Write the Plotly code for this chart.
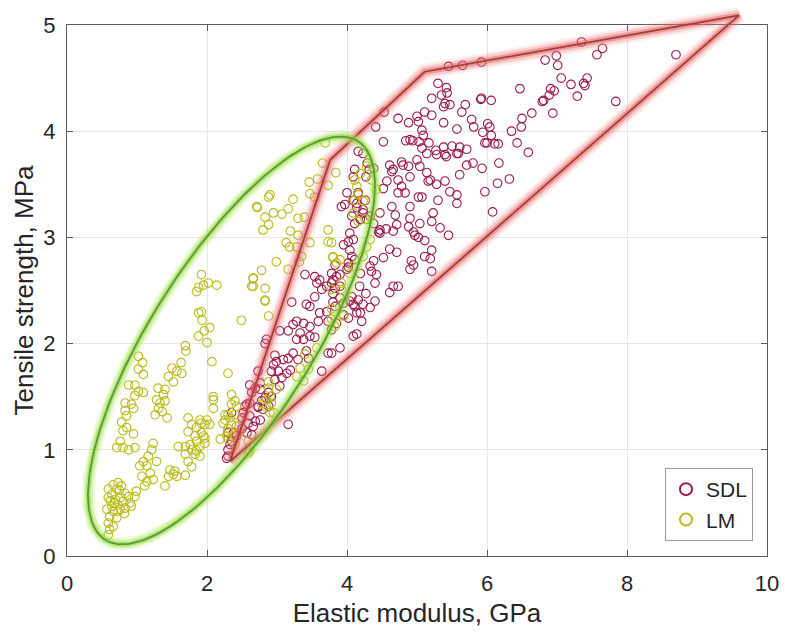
import numpy as np
import plotly.graph_objects as go

# ---------------- data (Elastic modulus [GPa], Tensile strength [MPa]) ----------------
sdl_pairs = [
    (7.35, 4.84), (7.65, 4.78), (7.57, 4.72), (8.70, 4.72), (6.83, 4.67), (6.99, 4.71), (7.01, 4.62),
    (7.06, 4.50), (7.20, 4.44), (7.38, 4.45), (7.40, 4.43), (7.43, 4.50), (7.29, 4.33), (7.84, 4.28),
    (6.47, 4.40), (6.91, 4.40), (6.96, 4.38), (6.89, 4.34), (6.81, 4.29), (6.79, 4.28), (6.94, 4.17),
    (6.64, 4.17), (6.50, 4.12), (6.49, 4.04), (6.35, 4.00), (6.43, 3.89), (6.59, 3.80), (6.17, 3.70),
    (6.32, 3.55), (6.15, 3.51), (5.97, 3.43), (6.08, 3.24), (5.93, 3.65), (6.06, 4.29), (5.92, 4.31),
    (6.01, 4.07), (6.04, 4.04), (5.94, 3.99), (6.06, 3.96), (6.00, 3.89), (6.11, 3.88), (6.16, 3.88),
    (5.92, 4.65), (5.45, 4.61), (5.65, 4.62), (5.30, 4.45), (5.42, 4.41), (5.21, 4.31), (5.35, 4.34),
    (5.43, 4.36), (5.40, 4.26), (5.38, 4.23), (5.47, 4.25), (5.69, 4.25), (5.64, 4.18), (5.91, 4.30),
    (4.53, 4.18), (4.41, 4.04), (4.73, 4.12), (4.88, 4.08), (5.00, 4.14), (5.11, 4.18), (5.02, 4.09),
    (5.21, 4.15), (5.07, 4.01), (5.09, 3.96), (5.03, 3.90), (5.38, 4.08), (5.57, 4.02), (5.78, 4.11),
    (5.81, 4.04), (5.97, 3.89), (4.52, 3.90), (4.84, 3.91), (4.90, 3.92), (4.94, 3.91), (5.17, 3.89),
    (5.07, 3.84), (5.38, 3.85), (5.27, 3.82), (5.50, 3.86), (5.61, 3.85), (5.71, 3.83), (5.59, 3.79),
    (5.28, 3.78), (5.42, 3.76), (5.57, 3.79), (5.71, 3.68), (5.80, 3.70), (5.61, 3.59), (4.61, 3.68),
    (4.78, 3.71), (4.88, 3.67), (5.00, 3.73), (5.04, 3.67), (5.14, 3.61), (5.19, 3.54), (5.28, 3.50),
    (4.64, 3.62), (4.73, 3.54), (4.90, 3.57), (4.16, 3.81), (4.23, 3.79), (4.29, 3.70), (4.32, 3.64),
    (4.38, 3.65), (4.52, 3.46), (4.73, 3.42), (4.83, 3.42), (4.78, 3.48), (4.90, 3.29), (5.02, 3.38),
    (5.07, 3.38), (5.30, 3.35), (5.40, 3.53), (5.47, 3.43), (5.57, 3.40), (5.57, 3.32), (3.97, 3.31),
    (3.92, 3.29), (4.14, 3.32), (4.23, 3.26), (4.33, 3.20), (4.47, 3.23), (4.64, 3.29), (4.69, 3.21),
    (4.71, 3.12), (4.90, 3.18), (4.88, 3.10), (5.04, 3.13), (5.23, 3.23), (5.33, 3.09), (5.45, 3.02),
    (4.97, 3.02), (4.47, 3.04), (4.38, 3.13), (4.19, 3.17), (4.07, 3.20), (4.11, 3.64), (5.21, 3.15),
    (4.56, 3.08), (4.57, 3.53), (4.66, 3.64), (4.80, 3.68), (5.16, 3.53), (5.40, 3.78), (5.14, 3.79),
    (4.27, 3.57), (4.09, 3.35), (4.14, 3.28), (4.11, 3.13), (4.23, 3.23), (4.28, 3.17), (3.95, 2.93),
    (4.02, 2.96), (4.09, 2.98), (4.04, 2.88), (4.07, 2.82), (4.11, 2.79), (4.02, 2.76), (3.83, 2.74),
    (3.78, 2.66), (3.85, 2.63), (3.78, 2.57), (3.71, 2.54), (3.61, 2.60), (3.54, 2.63), (3.57, 2.57),
    (3.64, 2.51), (3.80, 2.47), (3.40, 2.65), (3.54, 2.44), (3.90, 2.54), (4.00, 2.70), (4.18, 2.54),
    (4.27, 2.47), (4.19, 2.66), (4.09, 3.57), (4.00, 3.42), (4.16, 3.42), (4.26, 3.35), (4.04, 3.04),
    (4.33, 2.73), (4.40, 2.57), (4.66, 2.54), (4.47, 3.07), (4.02, 2.72), (3.90, 2.65), (3.80, 2.60),
    (3.83, 2.52), (3.90, 2.43), (3.83, 2.35), (3.95, 2.27), (4.02, 2.24), (3.85, 2.19), (3.78, 2.13),
    (4.04, 2.40), (4.11, 2.35), (4.19, 2.29), (4.21, 2.21), (4.09, 2.07), (3.90, 1.96), (3.78, 1.91),
    (4.40, 2.40), (4.33, 2.34), (4.16, 2.41), (4.35, 2.68), (4.42, 2.65), (4.38, 2.78), (4.52, 2.81),
    (4.61, 2.89), (4.71, 2.86), (4.45, 3.05), (4.66, 3.06), (4.95, 3.05), (5.02, 3.00), (5.11, 2.97),
    (5.11, 2.82), (5.21, 2.88), (5.19, 2.80), (5.21, 2.68), (4.92, 2.78), (4.90, 2.70), (4.95, 2.74),
    (4.61, 2.48), (4.73, 2.54), (3.80, 2.39), (3.21, 2.39), (3.42, 2.37), (3.47, 2.35), (3.61, 2.29),
    (3.71, 2.30), (3.73, 2.21), (3.59, 2.21), (3.47, 2.16), (3.38, 2.19), (3.28, 2.21), (3.23, 2.18),
    (3.16, 2.12), (3.04, 2.12), (3.33, 2.10), (3.47, 2.07), (3.54, 2.06), (3.38, 2.04), (3.28, 2.04),
    (2.85, 2.04), (2.83, 2.00), (2.97, 1.89), (3.16, 1.86), (3.09, 1.85), (3.23, 1.91), (3.42, 1.93),
    (3.45, 1.86), (3.30, 1.85), (3.19, 1.75), (3.14, 1.72), (2.99, 1.83), (2.95, 1.80), (3.02, 1.74),
    (3.07, 1.68), (2.97, 1.66), (2.92, 1.74), (3.04, 1.60), (2.73, 1.74), (2.61, 1.61), (2.69, 1.58),
    (2.64, 1.54), (2.76, 1.57), (2.83, 1.49), (2.88, 1.54), (2.92, 1.50), (2.78, 1.46), (2.88, 1.41),
    (2.73, 1.40), (2.61, 1.44), (2.57, 1.43), (2.52, 1.35), (2.61, 1.32), (2.69, 1.27), (2.80, 1.38),
    (2.66, 1.22), (2.57, 1.16), (2.64, 1.14), (2.50, 1.20), (2.38, 1.16), (2.35, 1.08), (2.33, 1.05),
    (2.30, 0.94), (3.16, 1.24), (4.14, 2.09), (4.14, 2.29), (4.23, 2.37), (4.09, 2.37), (4.07, 2.44),
    (3.73, 1.91), (3.64, 1.74), (3.95, 2.38), (2.76, 1.63), (2.54, 1.41), (2.73, 1.41), (2.50, 1.30),
    (2.59, 1.25), (2.76, 1.28), (2.35, 1.35), (2.30, 1.16), (2.42, 1.13), (2.30, 1.00), (2.28, 0.92),
]

lm_pairs = [
    (3.69, 3.89), (3.65, 3.70), (3.84, 3.61), (3.73, 3.49), (3.58, 3.55), (3.46, 3.52), (3.47, 3.41),
    (3.23, 3.36), (2.90, 3.40), (2.88, 3.38), (2.71, 3.29), (2.72, 3.28), (2.95, 3.23), (3.07, 3.22),
    (3.16, 3.27), (2.83, 3.19), (2.88, 3.12), (2.80, 3.07), (3.30, 3.18), (3.39, 3.19), (3.19, 3.06),
    (3.30, 3.02), (3.13, 2.95), (3.18, 2.91), (3.28, 2.91), (3.47, 2.95), (3.73, 2.96), (2.99, 2.77),
    (3.16, 2.70), (3.32, 2.77), (2.78, 2.69), (2.66, 2.61), (2.64, 2.54), (2.83, 2.52), (3.80, 2.81),
    (4.11, 3.54), (4.14, 3.48), (4.16, 3.40), (4.23, 3.34), (4.26, 3.17), (4.16, 3.15), (1.92, 2.65),
    (2.02, 2.57), (2.14, 2.55), (1.95, 2.55), (1.88, 2.53), (1.85, 2.49), (1.88, 2.29), (1.92, 2.30),
    (1.93, 2.22), (2.04, 2.15), (1.96, 2.12), (1.88, 2.07), (2.00, 2.01), (2.49, 2.22), (2.07, 1.83),
    (2.30, 1.72), (1.69, 1.98), (1.70, 1.93), (1.63, 1.82), (1.50, 1.77), (1.57, 1.74), (1.64, 1.72),
    (1.45, 1.69), (1.02, 1.88), (1.08, 1.82), (1.02, 1.76), (1.09, 1.71), (0.88, 1.61), (0.97, 1.61),
    (1.02, 1.55), (1.09, 1.54), (0.97, 1.51), (0.83, 1.44), (0.92, 1.43), (0.95, 1.39), (0.83, 1.37),
    (0.85, 1.32), (0.78, 1.26), (0.85, 1.21), (0.80, 1.18), (0.95, 1.15), (1.52, 1.64), (1.30, 1.58),
    (1.40, 1.57), (1.38, 1.52), (1.28, 1.47), (1.33, 1.44), (1.40, 1.46), (1.31, 1.39), (1.36, 1.36),
    (1.26, 1.33), (1.43, 1.30), (0.71, 1.02), (0.80, 1.02), (0.76, 1.08), (0.97, 1.02), (0.88, 1.00),
    (1.23, 1.06), (1.21, 1.00), (1.16, 0.94), (1.09, 0.89), (1.14, 0.85), (1.04, 0.85), (1.19, 0.78),
    (1.28, 0.89), (1.07, 0.75), (1.14, 0.70), (1.23, 0.72), (1.11, 0.66), (0.99, 0.61), (1.40, 0.66),
    (1.47, 0.81), (1.52, 0.77), (1.57, 0.75), (1.45, 0.75), (1.54, 0.80), (1.73, 1.30), (1.78, 1.24),
    (1.73, 1.17), (1.85, 1.21), (1.90, 1.28), (1.92, 1.16), (1.83, 1.13), (1.97, 1.11), (1.85, 1.08),
    (1.90, 1.03), (1.78, 1.00), (1.69, 0.96), (1.73, 0.89), (1.83, 0.96), (1.90, 0.94), (1.85, 0.99),
    (1.76, 1.05), (1.69, 1.03), (1.59, 1.03), (1.78, 0.84), (1.69, 0.76), (1.97, 1.24), (2.04, 1.24),
    (2.09, 1.50), (2.09, 1.47), (2.35, 1.52), (2.40, 1.46), (2.42, 1.41), (2.30, 1.33), (2.26, 1.28),
    (2.35, 1.24), (2.30, 1.17), (2.37, 1.13), (2.30, 1.10), (2.40, 1.05), (2.61, 0.99), (2.59, 1.08),
    (2.45, 1.16), (0.59, 0.63), (0.66, 0.67), (0.73, 0.69), (0.78, 0.66), (0.71, 0.63), (0.64, 0.58),
    (0.59, 0.55), (0.69, 0.53), (0.76, 0.55), (0.83, 0.59), (0.88, 0.56), (0.80, 0.51), (0.90, 0.50),
    (0.73, 0.48), (0.64, 0.47), (0.57, 0.44), (0.66, 0.42), (0.73, 0.42), (0.83, 0.45), (0.61, 0.37),
    (0.71, 0.36), (0.59, 0.31), (0.66, 0.28), (0.61, 0.25), (0.59, 0.20), (0.92, 0.47), (0.97, 0.56),
    (0.76, 0.44), (0.75, 0.62), (0.68, 0.50), (0.62, 0.52), (0.82, 0.40), (2.88, 2.26), (2.83, 2.41),
    (3.40, 1.90), (3.45, 1.76), (3.38, 1.65), (3.33, 1.77), (3.28, 1.69), (2.88, 1.58), (2.90, 1.50),
    (2.92, 1.44), (2.85, 1.40), (2.78, 1.43), (2.90, 1.35), (2.99, 1.57), (2.35, 1.43), (2.40, 1.33),
    (2.33, 1.30), (2.26, 1.33), (2.42, 1.22), (2.30, 1.20), (2.23, 1.25), (2.28, 1.13), (2.19, 1.10),
    (2.09, 1.39), (2.00, 1.28), (1.92, 1.25), (1.95, 1.13), (1.97, 1.06), (3.83, 2.16), (3.78, 2.33),
    (3.57, 1.96), (3.73, 3.07), (3.35, 2.82), (3.54, 3.38), (4.19, 3.60), (4.28, 3.67), (4.35, 3.54),
    (4.42, 3.45), (4.11, 3.35), (4.09, 3.23), (4.28, 2.91), (4.23, 2.82), (4.33, 2.98), (4.09, 2.73),
    (4.04, 2.66), (3.92, 2.57), (2.66, 2.62), (2.83, 2.40), (2.66, 2.54), (3.78, 2.95), (3.80, 2.82),
    (3.85, 2.76), (3.90, 2.79), (3.78, 2.51), (3.92, 2.51), (3.95, 2.26), (3.78, 2.23), (2.88, 1.64),
    (2.85, 1.47), (2.95, 1.35), (2.59, 0.97),
]

sdl_modulus = [p[0] for p in sdl_pairs]
sdl_strength = [p[1] for p in sdl_pairs]
lm_modulus = [p[0] for p in lm_pairs]
lm_strength = [p[1] for p in lm_pairs]

# SDL region outline (polygon vertices)
sdl_region_modulus = [2.33, 3.76, 5.11, 9.60, 2.33]
sdl_region_strength = [0.89, 3.73, 4.56, 5.09, 0.89]

# LM region outline (tilted ellipse parameters)
lm_center = (2.35, 2.03)
lm_half_x = 2.05
lm_half_y = 1.92
lm_phase = 0.707

t = np.linspace(0, 2 * np.pi, 241)
lm_region_modulus = lm_center[0] + lm_half_x * np.cos(t)
lm_region_strength = lm_center[1] + lm_half_y * np.cos(t + lm_phase)

X_RANGE = [0, 10]
Y_RANGE = [0, 5]

SDL_COLOR = "#9a1a4c"
LM_COLOR = "#bbbb1a"
FONT = "Liberation Sans, Arial, Helvetica, sans-serif"
TXT = "#262626"

# layout geometry (pixels)
W, H = 785, 633
ML, MR, MT, MB = 67, 8, 8, 77
PLOT_W, PLOT_H = 700, 531          # main axes box
AREA_W, AREA_H = W - ML - MR, H - MT - MB
dom_x = PLOT_W / AREA_W
dom_y = PLOT_H / AREA_H

fig = go.Figure()

fig.add_trace(go.Scatter(x=sdl_modulus, y=sdl_strength, mode="markers", name="SDL",
                         marker=dict(symbol="circle-open", size=8.6, color=SDL_COLOR,
                                     line=dict(width=1.1, color=SDL_COLOR))))
fig.add_trace(go.Scatter(x=lm_modulus, y=lm_strength, mode="markers", name="LM",
                         marker=dict(symbol="circle-open", size=8.6, color=LM_COLOR,
                                     line=dict(width=1.1, color=LM_COLOR))))

# glowing outlines, drawn on an overlay pair of axes with identical scale but a
# larger drawing area so the outline may run past the axes box as in the original
ov = dict(xaxis="x2", yaxis="y2", mode="lines", showlegend=False, hoverinfo="skip")
for w, c in [(16, "rgba(240,140,140,0.16)"), (11, "rgba(232,112,112,0.26)"), (6, "rgba(222,92,92,0.45)")]:
    fig.add_trace(go.Scatter(x=sdl_region_modulus, y=sdl_region_strength, line=dict(color=c, width=w), **ov))
fig.add_trace(go.Scatter(x=sdl_region_modulus, y=sdl_region_strength, line=dict(color="#a83a3a", width=1.8), **ov))

for w, c in [(13, "rgba(175,235,95,0.20)"), (9, "rgba(165,228,75,0.32)"), (5, "rgba(145,212,60,0.5)")]:
    fig.add_trace(go.Scatter(x=lm_region_modulus, y=lm_region_strength, line=dict(color=c, width=w), **ov))
fig.add_trace(go.Scatter(x=lm_region_modulus, y=lm_region_strength, line=dict(color="#5a9a38", width=1.8), **ov))

axis_common = dict(
    showgrid=True, gridcolor="#e6e6e6", gridwidth=1, zeroline=False,
    showline=True, linecolor="#5a5a5a", linewidth=1, mirror="ticks",
    ticks="inside", ticklen=6, tickcolor="#5a5a5a",
    tickfont=dict(family=FONT, size=22, color=TXT), automargin=False,
)

fig.update_layout(
    template="none",
    width=W, height=H,
    margin=dict(l=ML, r=MR, t=MT, b=MB),
    paper_bgcolor="white", plot_bgcolor="rgba(0,0,0,0)",
    font=dict(family=FONT, color=TXT),
    xaxis=dict(range=X_RANGE, domain=[0, dom_x], tickvals=[0, 2, 4, 6, 8, 10], ticklabelstandoff=8,
               title=dict(text="Elastic modulus, GPa", font=dict(family=FONT, size=26, color=TXT), standoff=8),
               **axis_common),
    yaxis=dict(range=Y_RANGE, domain=[0, dom_y], tickvals=[0, 1, 2, 3, 4, 5], ticklabelstandoff=6,
               title=dict(text="Tensile strength, MPa", font=dict(family=FONT, size=26, color=TXT), standoff=2),
               **axis_common),
    xaxis2=dict(range=[X_RANGE[0], X_RANGE[1] / dom_x], domain=[0, 1], visible=False,
                anchor="y2", fixedrange=True),
    yaxis2=dict(range=[Y_RANGE[0], Y_RANGE[1] / dom_y], domain=[0, 1], visible=False,
                anchor="x2", fixedrange=True),
    legend=dict(x=(753 - ML) / AREA_W, y=(H - MB - 541) / AREA_H, xanchor="right", yanchor="bottom",
                bgcolor="white", bordercolor="#9a9a9a", borderwidth=1,
                font=dict(family=FONT, size=21, color=TXT), itemsizing="constant",
                tracegroupgap=0),
    showlegend=True,
)

fig.write_html("out.html")
